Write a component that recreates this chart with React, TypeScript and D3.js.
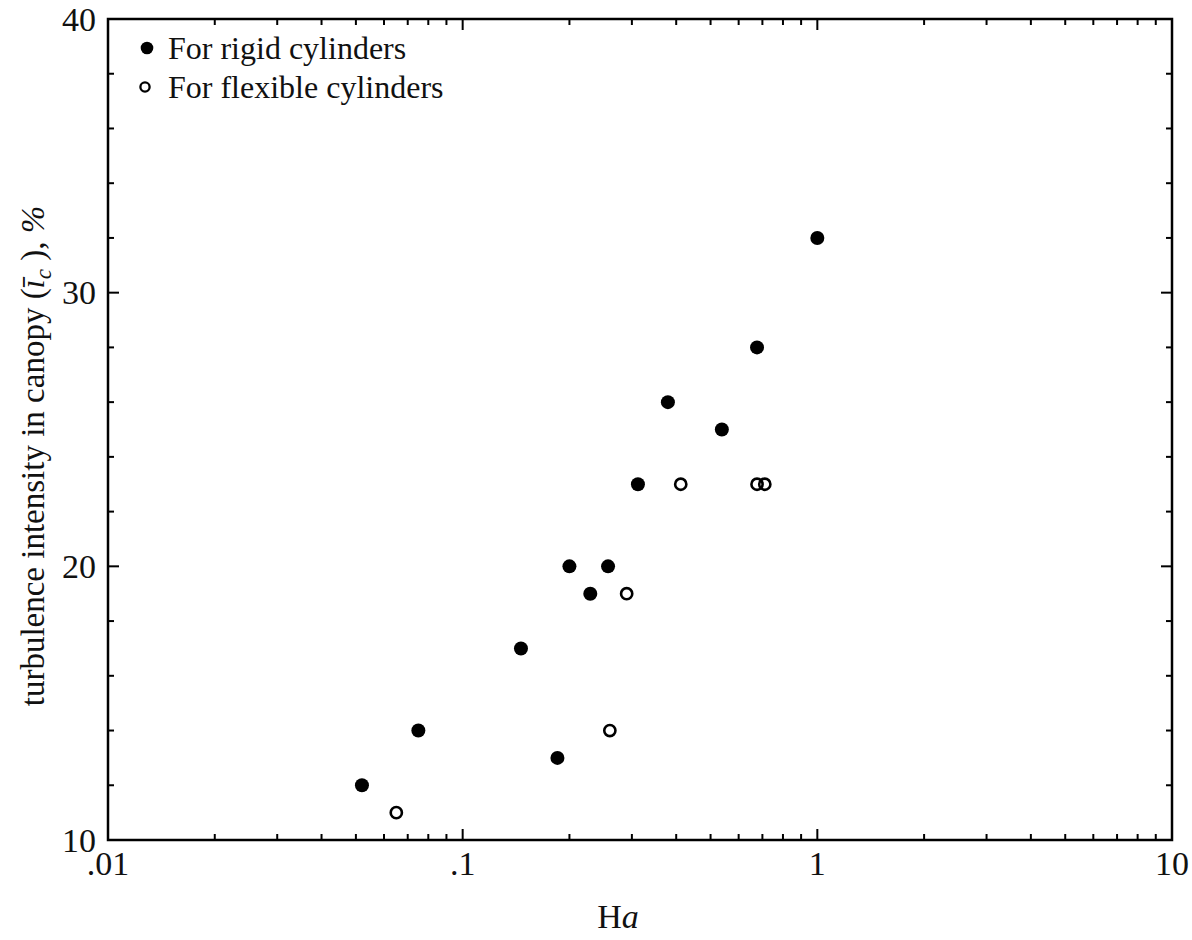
import React from "react";
import { scaleLog, scaleLinear } from "d3";

// rigid cylinders (filled dots)
const rigidHa = [0.052, 0.075, 0.146, 0.185, 0.2, 0.229, 0.257, 0.312, 0.379, 0.538, 0.676, 1.0];
const rigidI = [12, 14, 17, 13, 20, 19, 20, 23, 26, 25, 28, 32];

// flexible cylinders (open circles)
const flexHa = [0.065, 0.26, 0.29, 0.412, 0.676, 0.711];
const flexI = [11, 14, 19, 23, 23, 23];

const xTickValues = [0.01, 0.1, 1, 10];
const xTickLabels = [".01", ".1", "1", "10"];
const yTickValues = [10, 20, 30, 40];
const yTickLabels = ["10", "20", "30", "40"];

const legendLabels = ["For rigid cylinders", "For flexible cylinders"];

const width = 1192;
const height = 940;
const margin = { top: 19, right: 20, bottom: 100, left: 108 };
const FONT = "'Liberation Serif', 'Times New Roman', serif";

export default function App() {
  const innerW = 1172 - margin.left;
  const innerH = 840 - margin.top;

  const x = scaleLog().domain([0.01, 10]).range([0, innerW]);
  const y = scaleLinear().domain([10, 40]).range([innerH, 0]);

  const xMinor = x.ticks();
  const yMinor = y.ticks(15);
  const isDecade = (v: number) => Math.abs(Math.log10(v) - Math.round(Math.log10(v))) < 1e-6;

  const rigid = rigidHa.map((h, i) => ({ h, v: rigidI[i] }));
  const flex = flexHa.map((h, i) => ({ h, v: flexI[i] }));

  return (
    <div style={{ position: "absolute", left: 0, top: 0 }}>
      <svg width={width} height={height} style={{ display: "block", background: "#fff" }} fontFamily={FONT}>
        <g transform={`translate(${margin.left},${margin.top})`}>
          {/* ticks, inward on all four sides */}
          {xMinor.map((t) => {
            const len = isDecade(t) ? 11 : 6;
            return (
              <g key={"xt" + t} stroke="#000" strokeWidth={2}>
                <line x1={x(t)} x2={x(t)} y1={innerH} y2={innerH - len} />
                <line x1={x(t)} x2={x(t)} y1={0} y2={len} />
              </g>
            );
          })}
          {yMinor.map((t) => {
            const len = t % 10 === 0 ? 11 : 6;
            return (
              <g key={"yt" + t} stroke="#000" strokeWidth={2}>
                <line x1={0} x2={len} y1={y(t)} y2={y(t)} />
                <line x1={innerW} x2={innerW - len} y1={y(t)} y2={y(t)} />
              </g>
            );
          })}
          <rect x={0} y={0} width={innerW} height={innerH} fill="none" stroke="#000" strokeWidth={2.5} />

          {xTickValues.map((t, i) => (
            <text key={"xl" + t} x={x(t)} y={innerH + 35} textAnchor="middle" fontSize={34} fill="#111">
              {xTickLabels[i]}
            </text>
          ))}
          {yTickValues.map((t, i) => (
            <text key={"yl" + t} x={-12} y={y(t)} dy="0.34em" textAnchor="end" fontSize={34} fill="#111">
              {yTickLabels[i]}
            </text>
          ))}

          {rigid.map((d, i) => (
            <circle key={"r" + i} cx={x(d.h)} cy={y(d.v)} r={7} fill="#000" />
          ))}
          {flex.map((d, i) => (
            <circle key={"f" + i} cx={x(d.h)} cy={y(d.v)} r={5.6} fill="none" stroke="#000" strokeWidth={2.6} />
          ))}

          {/* legend */}
          <circle cx={39} cy={29} r={6.3} fill="#000" />
          <text x={60} y={40} fontSize={32} fill="#111">{legendLabels[0]}</text>
          <circle cx={37} cy={68} r={4.6} fill="none" stroke="#000" strokeWidth={2.3} />
          <text x={60} y={79} fontSize={32} fill="#111">{legendLabels[1]}</text>
        </g>

        {/* axis titles */}
        <text x={618} y={928} textAnchor="middle" fontSize={34} fill="#111">
          H<tspan fontStyle="italic">a</tspan>
        </text>
        <text transform="translate(44,456) rotate(-90)" textAnchor="middle" fontSize={33} fill="#111">
          turbulence intensity in canopy (
          <tspan fontStyle="italic">ī</tspan>
          <tspan fontStyle="italic" fontSize={23} dy={7}>c</tspan>
          <tspan dy={-7}> ), </tspan>
          <tspan fontStyle="italic">%</tspan>
        </text>
      </svg>
    </div>
  );
}
